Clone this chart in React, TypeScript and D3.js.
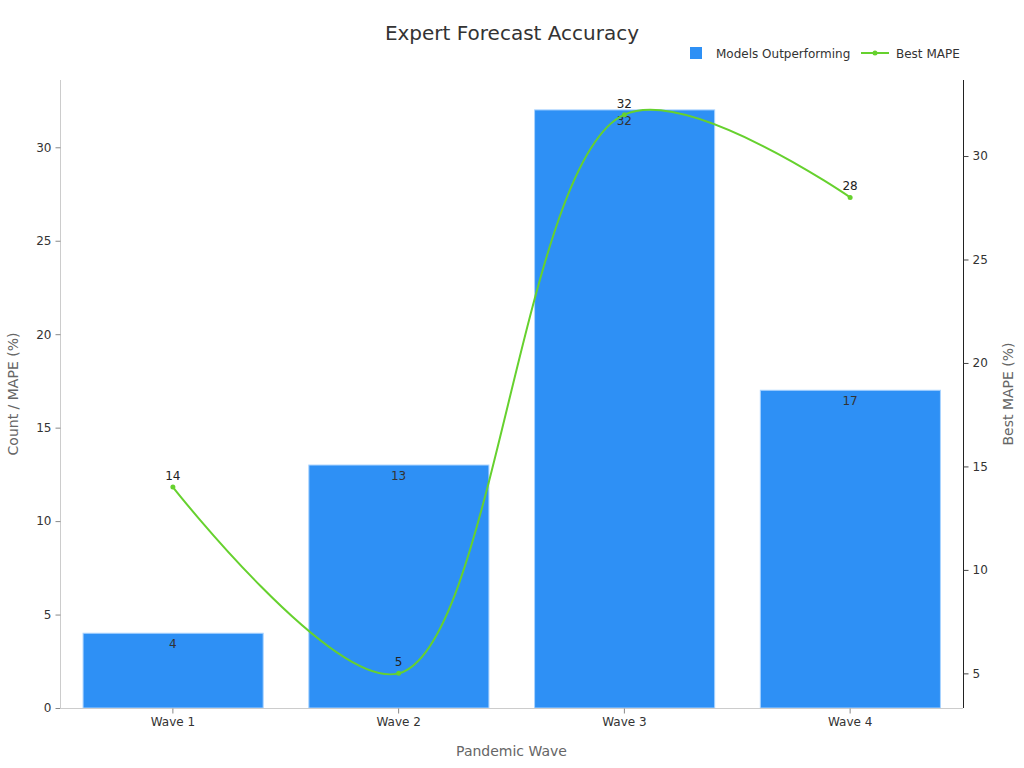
import { useEffect, useRef } from "react";
import * as d3 from "d3";

const WIDTH = 1024;
const HEIGHT = 768;
const MARGIN = { top: 80, right: 61, bottom: 60, left: 60 };

const waves = ["Wave 1", "Wave 2", "Wave 3", "Wave 4"];
const modelsOutperforming = [4, 13, 32, 17];
const bestMape = [14, 5, 32, 28];
const leftTicks = [0, 5, 10, 15, 20, 25, 30];
const rightTicks = [5, 10, 15, 20, 25, 30];

const BAR_COLOR = "#2e90f5";
const LINE_COLOR = "#66d12e";
const FONT = "DejaVu Sans, Verdana, sans-serif";

const App = () => {
  const svgRef = useRef<SVGSVGElement | null>(null);

  useEffect(() => {
    const boundsWidth = WIDTH - MARGIN.left - MARGIN.right;
    const boundsHeight = HEIGHT - MARGIN.top - MARGIN.bottom;

    const svg = d3.select(svgRef.current);
    svg.selectAll("*").remove();
    svg.style("font-family", FONT);

    const xScale = d3
      .scaleBand<string>()
      .domain(waves)
      .range([0, boundsWidth])
      .paddingInner(0.2)
      .paddingOuter(0.1);

    const yLeft = d3
      .scaleLinear()
      .domain([0, d3.max(modelsOutperforming)! * 1.05])
      .range([boundsHeight, 0]);

    const lo = d3.min(bestMape)!;
    const hi = d3.max(bestMape)!;
    const pad = (hi - lo) * 0.062;
    const yRight = d3
      .scaleLinear()
      .domain([lo - pad, hi + pad])
      .range([boundsHeight, 0]);

    const g = svg
      .append("g")
      .attr("transform", `translate(${MARGIN.left},${MARGIN.top})`);

    // bars
    g.selectAll("rect.bar")
      .data(modelsOutperforming)
      .join("rect")
      .attr("class", "bar")
      .attr("x", (_, i) => xScale(waves[i])! + 0.5)
      .attr("y", (d) => yLeft(d))
      .attr("width", xScale.bandwidth() - 0.5)
      .attr("height", (d) => boundsHeight - yLeft(d))
      .attr("fill", BAR_COLOR)
      .attr("stroke", "#a9d3ff")
      .attr("stroke-width", 1);

    g.selectAll("text.barlabel")
      .data(modelsOutperforming)
      .join("text")
      .attr("class", "barlabel")
      .attr("x", (_, i) => xScale(waves[i])! + xScale.bandwidth() / 2)
      .attr("y", (d) => yLeft(d) + 15)
      .attr("text-anchor", "middle")
      .attr("font-size", 12)
      .attr("fill", "#333")
      .text((d) => d);

    // left axis
    const leftAxis = g
      .append("g")
      .attr("transform", "translate(0.5,0)")
      .call(d3.axisLeft(yLeft).tickValues(leftTicks).tickSize(5).tickPadding(4));
    leftAxis.select(".domain").attr("stroke", "#ccc").attr("d", `M0,${boundsHeight}V0`);
    leftAxis.selectAll(".tick line").attr("stroke", "#888");
    leftAxis.selectAll(".tick text").attr("fill", "#333").attr("font-size", 12).attr("font-family", FONT);

    // right axis
    const rightAxis = g
      .append("g")
      .attr("transform", `translate(${boundsWidth + 0.5},0)`)
      .call(d3.axisRight(yRight).tickValues(rightTicks).tickSize(5).tickPadding(4));
    rightAxis.select(".domain").attr("stroke", "#222").attr("d", `M0,${boundsHeight}V0`);
    rightAxis.selectAll(".tick line").attr("stroke", "#444");
    rightAxis.selectAll(".tick text").attr("fill", "#333").attr("font-size", 12).attr("font-family", FONT);

    // x axis
    const xAxis = g
      .append("g")
      .attr("transform", `translate(0,${boundsHeight + 0.5})`)
      .call(d3.axisBottom(xScale).tickSize(5).tickPadding(4));
    xAxis.select(".domain").attr("stroke", "#ccc").attr("d", `M0,0H${boundsWidth}`);
    xAxis.selectAll(".tick line").attr("stroke", "#888");
    xAxis.selectAll(".tick text").attr("fill", "#333").attr("font-size", 12).attr("font-family", FONT);

    // line
    const cx = (i: number) => xScale(waves[i])! + xScale.bandwidth() / 2;
    const line = d3
      .line<number>()
      .x((_, i) => cx(i))
      .y((d) => yRight(d))
      .curve(d3.curveCatmullRom.alpha(0.5));

    g.append("path")
      .datum(bestMape)
      .attr("d", line)
      .attr("fill", "none")
      .attr("stroke", LINE_COLOR)
      .attr("stroke-width", 2);

    g.selectAll("circle.pt")
      .data(bestMape)
      .join("circle")
      .attr("class", "pt")
      .attr("cx", (_, i) => cx(i))
      .attr("cy", (d) => yRight(d))
      .attr("r", 2.5)
      .attr("fill", LINE_COLOR);

    g.selectAll("text.ptlabel")
      .data(bestMape)
      .join("text")
      .attr("class", "ptlabel")
      .attr("x", (_, i) => cx(i))
      .attr("y", (d) => yRight(d) - 7)
      .attr("text-anchor", "middle")
      .attr("font-size", 12)
      .attr("fill", "#222")
      .text((d) => d);

    // axis titles
    svg
      .append("text")
      .attr("x", MARGIN.left + boundsWidth / 2)
      .attr("y", 756)
      .attr("text-anchor", "middle")
      .attr("font-size", 14)
      .attr("fill", "#666")
      .text("Pandemic Wave");

    svg
      .append("text")
      .attr("transform", `translate(18,${MARGIN.top + boundsHeight / 2}) rotate(-90)`)
      .attr("text-anchor", "middle")
      .attr("font-size", 14)
      .attr("fill", "#666")
      .text("Count / MAPE (%)");

    svg
      .append("text")
      .attr("transform", `translate(1013,${MARGIN.top + boundsHeight / 2}) rotate(-90)`)
      .attr("text-anchor", "middle")
      .attr("font-size", 14)
      .attr("fill", "#666")
      .text("Best MAPE (%)");

    // title
    svg
      .append("text")
      .attr("x", WIDTH / 2)
      .attr("y", 40)
      .attr("text-anchor", "middle")
      .attr("font-size", 20)
      .attr("fill", "#333")
      .text("Expert Forecast Accuracy");

    // legend
    const legend = svg.append("g").attr("font-size", 12).attr("fill", "#333");
    legend.append("rect").attr("x", 690).attr("y", 47).attr("width", 12).attr("height", 12).attr("fill", BAR_COLOR);
    legend.append("text").attr("x", 716).attr("y", 58).text("Models Outperforming");
    legend
      .append("line")
      .attr("x1", 861)
      .attr("x2", 889)
      .attr("y1", 53)
      .attr("y2", 53)
      .attr("stroke", LINE_COLOR)
      .attr("stroke-width", 2);
    legend.append("circle").attr("cx", 875).attr("cy", 53).attr("r", 2.5).attr("fill", LINE_COLOR);
    legend.append("text").attr("x", 896).attr("y", 58).text("Best MAPE");
  }, []);

  return (
    <div style={{ position: "absolute", left: 0, top: 0 }}>
      <svg ref={svgRef} width={WIDTH} height={HEIGHT} />
    </div>
  );
};

export default App;
